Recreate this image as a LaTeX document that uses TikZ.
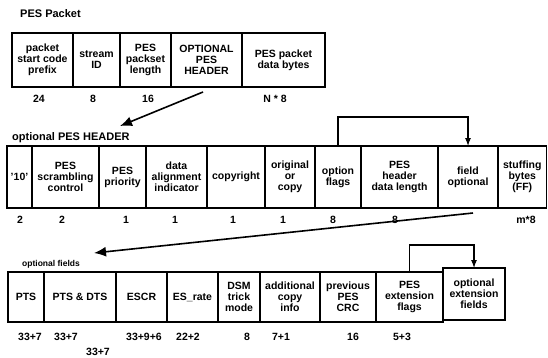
\documentclass[tikz,border=0pt]{standalone}
\usepackage{fontspec}
\setmainfont{Liberation Sans}
\usetikzlibrary{arrows.meta}
\begin{document}
\begin{tikzpicture}[x=1pt,y=-1pt,
  fld/.style={draw, line width=1.1pt, inner sep=0pt, outer sep=0pt, align=center,
    anchor=north west, font=\fontsize{10.5}{11}\selectfont\bfseries},
  num/.style={anchor=base, inner sep=0pt, font=\fontsize{10.5}{11}\selectfont\bfseries},
  ttl/.style={anchor=base west, inner sep=0pt, font=\fontsize{11}{12}\selectfont\bfseries},
  bigarrow/.style={line width=1.6pt, -{Latex[length=12pt,width=10pt]}},
  brk/.style={line width=1.1pt, -{Latex[length=8pt,width=6pt]}}]
\useasboundingbox (0,0) rectangle (548,357);
% Row 1
\node[ttl] (t1) at (20,17) {PES Packet};
\node[fld, minimum width=61pt, minimum height=54pt] (a1) at (12,33) {packet\\start code\\prefix};
\node[fld, minimum width=47pt, minimum height=54pt] (a2) at (73,33) {stream\\ID};
\node[fld, minimum width=51pt, minimum height=54pt] (a3) at (120,33) {PES\\packset\\length};
\node[fld, minimum width=71pt, minimum height=54pt] (a4) at (171,33) {OPTIONAL\\PES\\HEADER};
\node[fld, minimum width=83pt, minimum height=54pt] (a5) at (242,33) {PES packet\\data bytes};
\node[num] (n11) at (39,102) {24};
\node[num] (n12) at (93,102) {8};
\node[num] (n13) at (148,102) {16};
\node[num] (n14) at (275,102) {N * 8};
\coordinate (s1) at (203,92);
\coordinate (e1) at (120,126);
\draw[bigarrow] (s1) -- (e1);
% Row 2
\node[ttl] (t2) at (12,140) {optional PES HEADER};
\node[fld, minimum width=25pt, minimum height=62pt] (b1) at (7,146) {'10'};
\node[fld, minimum width=67pt, minimum height=62pt] (b2) at (32,146) {PES\\scrambling\\control};
\node[fld, minimum width=47pt, minimum height=62pt] (b3) at (99,146) {PES\\priority};
\node[fld, minimum width=61pt, minimum height=62pt] (b4) at (146,146) {data\\alignment\\indicator};
\node[fld, minimum width=58pt, minimum height=62pt] (b5) at (207,146) {copyright};
\node[fld, minimum width=50pt, minimum height=62pt] (b6) at (265,146) {original\\or\\copy};
\node[fld, minimum width=46pt, minimum height=62pt] (b7) at (315,146) {option\\flags};
\node[fld, minimum width=77pt, minimum height=62pt] (b8) at (361,146) {PES\\header\\data length};
\node[fld, minimum width=60pt, minimum height=62pt] (b9) at (438,146) {field\\optional};
\node[fld, minimum width=48.5pt, minimum height=62pt] (b10) at (498,146) {stuffing\\bytes\\(FF)};
\node[num] (n21) at (20,223) {2};
\node[num] (n22) at (62,223) {2};
\node[num] (n23) at (126,223) {1};
\node[num] (n24) at (175,223) {1};
\node[num] (n25) at (233,223) {1};
\node[num] (n26) at (283,223) {1};
\node[num] (n27) at (333,223) {8};
\node[num] (n28) at (395,223) {8};
\node[num] (n29) at (526,223) {m*8};
\draw[brk] (b7.north) -- ++(0,-29) -| (b9.north);
\coordinate (s2) at (473,213);
\coordinate (e2) at (94,253);
\draw[bigarrow] (s2) -- (e2);
% Row 3
\node[ttl, font=\fontsize{8.5}{10}\selectfont\bfseries] (t3) at (22,266) {optional fields};
\node[fld, minimum width=36pt, minimum height=50pt] (c1) at (8,272) {PTS};
\node[fld, minimum width=72pt, minimum height=50pt] (c2) at (44,272) {PTS \& DTS};
\node[fld, minimum width=51pt, minimum height=50pt] (c3) at (116,272) {ESCR};
\node[fld, minimum width=51pt, minimum height=50pt] (c4) at (167,272) {ES\_rate};
\node[fld, minimum width=42pt, minimum height=50pt] (c5) at (218,272) {DSM\\trick\\mode};
\node[fld, minimum width=60pt, minimum height=50pt] (c6) at (260,272) {additional\\copy\\info};
\node[fld, minimum width=56pt, minimum height=50pt] (c7) at (320,272) {previous\\PES\\CRC};
\node[fld, minimum width=67pt, minimum height=50pt] (c8) at (376,272) {PES\\extension\\flags};
\node[fld, minimum width=62pt, minimum height=52pt] (c9) at (443,268) {optional\\extension\\fields};
\node[num] (n31) at (30,340) {33+7};
\node[num] (n32) at (66,340) {33+7};
\node[num] (n33) at (144,340) {33+9+6};
\node[num] (n34) at (188,340) {22+2};
\node[num] (n35) at (247,340) {8};
\node[num] (n36) at (281,340) {7+1};
\node[num] (n37) at (353,340) {16};
\node[num] (n38) at (402,340) {5+3};
\node[num] (n39) at (98,355) {33+7};
\draw[brk] (c8.north) -- ++(0,-27) -| (c9.north);
\end{tikzpicture}
\end{document}
